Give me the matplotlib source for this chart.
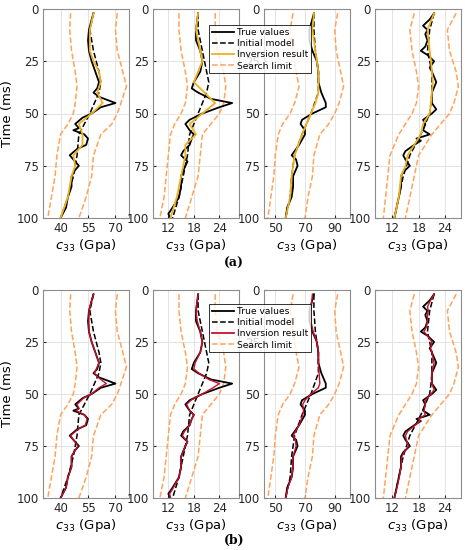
import matplotlib
matplotlib.use("Agg")
import matplotlib.pyplot as plt
from matplotlib.lines import Line2D

# ---- data ----
xlims = [(30.4, 77.4), (8.4, 28.6), (42.4, 100.3), (8.1, 27.6)]
xticks = [[40, 55, 70], [12, 18, 24], [50, 70, 90], [12, 18, 24]]

t_true = [
    [2, 5, 10, 15, 20, 25, 30, 35, 38, 40, 42, 45, 47, 50, 52, 55, 57, 58, 60, 62, 65, 67, 70, 72, 75, 77, 80, 85, 90, 95, 100],
    [2, 10, 15, 20, 25, 30, 35, 38, 40, 43, 45, 47, 50, 53, 55, 58, 60, 62, 65, 68, 70, 73, 75, 80, 85, 90, 95, 98, 100],
    [2, 10, 15, 20, 25, 30, 35, 40, 45, 47, 50, 53, 55, 58, 60, 65, 70, 72, 75, 80, 85, 90, 95, 100],
    [2, 5, 8, 10, 12, 15, 18, 20, 22, 25, 28, 30, 35, 40, 45, 48, 50, 53, 55, 58, 60, 62, 63, 65, 68, 70, 72, 75, 78, 80, 85, 90, 95, 100],
]
v_true = [
    [58, 57, 55.5, 55, 55.5, 57, 59, 61, 60, 58, 61, 70, 62, 57, 52, 48, 50, 47, 53, 55, 54, 49, 45, 47, 50, 48, 46, 46, 44, 43, 40],
    [19, 18.5, 18.5, 19.5, 20, 19.5, 18, 17.5, 19, 22, 27, 24, 20, 17, 16, 17, 18, 17.5, 17, 15.5, 15, 16.5, 16, 15, 15, 14.5, 13, 12, 12.5],
    [76, 73, 73, 75, 78, 79, 79, 81, 84, 84, 75, 68, 67, 70, 70, 66, 61, 64, 65, 62, 62, 61, 58, 57],
    [21.5, 20.5, 19, 20, 19.5, 20, 19.5, 18.5, 20, 21.5, 20.5, 21, 22, 21, 21, 22, 21, 19, 19.5, 19, 20.5, 17.5, 18.5, 17, 15, 14.5, 15, 16, 14.5, 14, 14, 13.5, 13, 12.5],
]
v_inv_b = [
    [58, 57, 55.5, 55.5, 55.5, 57, 59, 61, 59.5, 58.5, 60.5, 65, 61, 57, 52.5, 49, 50, 48.5, 53, 54.5, 53.5, 49.5, 45.5, 47, 49.5, 48, 46, 46, 44, 43, 40],
    [19, 18.5, 18.8, 19.5, 20, 19.5, 18.3, 18, 19.2, 21.5, 24, 22.5, 20, 17.3, 16.3, 17, 18, 17.5, 17, 15.8, 15.3, 16.5, 16, 15, 15, 14.5, 13.2, 12.3, 12.5],
    [75, 74, 74, 75.5, 78, 79, 79, 79.5, 80, 79, 74, 70, 68.5, 69, 68.5, 66, 62, 63.5, 64, 62, 62, 61, 58.5, 57],
    [21.5, 20.7, 20, 20.2, 20, 20, 19.7, 19.2, 20, 21, 20.7, 21, 21.5, 21, 21, 21.5, 20.8, 19.5, 19.5, 19.2, 19.5, 18, 18.3, 17.2, 15.5, 15, 15.2, 15.7, 14.7, 14.2, 14, 13.6, 13.1, 12.5],
]

t_init = [2, 10, 20, 30, 35, 40, 45, 50, 55, 60, 70, 80, 90, 100]
v_init = [
    [58, 56, 58, 61, 62, 61, 58.5, 56, 53, 50, 49, 47, 44, 40],
    [19, 19, 20, 21, 21.5, 21, 20, 19, 18, 17, 16.5, 15.5, 14.5, 13],
    [76, 76, 77, 79, 79, 79, 76.5, 74, 71, 68, 63, 61, 60, 57],
    [21.5, 20.5, 20, 21, 21, 21, 20.8, 20.5, 19.5, 18.5, 16, 14.5, 13.5, 12.5],
]

t_inv_a = [2, 10, 20, 25, 30, 35, 40, 45, 50, 55, 60, 65, 70, 75, 80, 90, 100]
v_inv_a = [
    [58, 56, 56, 58, 61, 62, 60, 63, 57, 50, 52, 52, 47, 48, 46, 44, 40],
    [19, 18.5, 19.5, 20, 19, 18, 20.5, 23, 20, 17, 18.5, 16, 16, 15.5, 15, 14, 12.5],
    [76, 75, 77, 78, 79, 79, 79, 77, 74, 71, 68, 65.5, 63, 62, 61, 60, 57],
    [21.5, 20, 20.5, 20.8, 21, 21.2, 21, 20.8, 20.5, 19, 18.5, 17, 15.5, 15, 14, 13.5, 12.5],
]

t_lim = [2, 10, 20, 30, 37, 45, 50, 55, 60, 70, 80, 90, 100]
v_low = [
    [45.5, 45, 46, 48, 49, 48, 47, 44, 40, 38, 37, 35, 33],
    [14.5, 14.5, 15, 16, 16.5, 16, 15, 13.5, 12.5, 12, 11.5, 11, 10],
    [62, 60, 62, 64, 66, 63, 60, 55, 52, 50, 49, 47, 45],
    [17, 16, 16.5, 17.5, 18, 17.5, 16.5, 15, 13.5, 11.5, 11, 10.5, 10],
]
v_up = [
    [71, 70, 71, 74, 76, 73, 71, 68, 62, 58, 57, 54, 50],
    [23, 23, 23.5, 25, 25.5, 25, 24, 22, 20, 19.5, 19, 17.5, 16],
    [92, 90, 91, 94, 96, 93, 90, 86, 80, 76, 75, 72, 70],
    [26.5, 24.5, 25, 26.5, 27, 26, 25, 23, 21, 18, 17, 16, 15],
]

labels = ["True values", "Initial model", "Inversion result", "Search limit"]
inv_colors = ["#EDB120", "#C8102E"]
lim_color = "#FFA35C"

W, H = 468, 550
fig = plt.figure(figsize=(W / 100, H / 100), dpi=100)
lefts = [43, 153, 264, 375]
width = 86
rows = [(9, 218), (290, 498)]

for r, (ytop, ybot) in enumerate(rows):
    for i in range(4):
        ax = fig.add_axes([lefts[i] / W, 1 - ybot / H, width / W, (ybot - ytop) / H])
        ax.plot(v_low[i], t_lim, "--", color=lim_color, lw=1.1)
        ax.plot(v_up[i], t_lim, "--", color=lim_color, lw=1.1)
        ax.plot(v_true[i], t_true[i], "-", color="black", lw=1.3)
        ax.plot(v_init[i], t_init, "--", color="black", lw=1.1)
        if r == 0:
            ax.plot(v_inv_a[i], t_inv_a, "-", color=inv_colors[0], lw=1.3)
        else:
            ax.plot(v_inv_b[i], t_true[i], "-", color=inv_colors[1], lw=1.0)
        ax.set_xlim(*xlims[i])
        ax.set_ylim(100, 0)
        ax.set_xticks(xticks[i])
        ax.set_yticks([0, 25, 50, 75, 100])
        ax.grid(True, color="#e3e3e3", lw=0.7)
        ax.set_axisbelow(True)
        ax.tick_params(direction="in", length=2, labelsize=8.5, colors="#262626", pad=3)
        for s in ax.spines.values():
            s.set_color("#8c8c8c")
            s.set_linewidth(0.8)
        ax.set_xlabel("$c_{33}$ (Gpa)", fontsize=9.5, labelpad=1)
        if i == 0:
            ax.set_ylabel("Time (ms)", fontsize=9.5, labelpad=2)
    handles = [
        Line2D([], [], color="black", lw=1.3),
        Line2D([], [], color="black", lw=1.1, ls="--"),
        Line2D([], [], color=inv_colors[r], lw=1.3),
        Line2D([], [], color=lim_color, lw=1.1, ls="--"),
    ]
    ly = ytop + 16 if r == 0 else ytop + 14
    leg = fig.legend(handles, labels, loc="upper left", bbox_to_anchor=(209 / W, 1 - ly / H),
                     fontsize=6.6, frameon=True, fancybox=False, borderpad=0.3, labelspacing=0.25,
                     handlelength=2.4, handletextpad=0.4, borderaxespad=0)
    leg.get_frame().set_edgecolor("black")
    leg.get_frame().set_linewidth(0.7)

fig.text(234 / W, 1 - 263 / H, "(a)", ha="center", va="center", fontsize=9, family="DejaVu Serif", weight="bold")
fig.text(234 / W, 1 - 540 / H, "(b)", ha="center", va="center", fontsize=9, family="DejaVu Serif", weight="bold")

fig.savefig("out.png", dpi=100)
